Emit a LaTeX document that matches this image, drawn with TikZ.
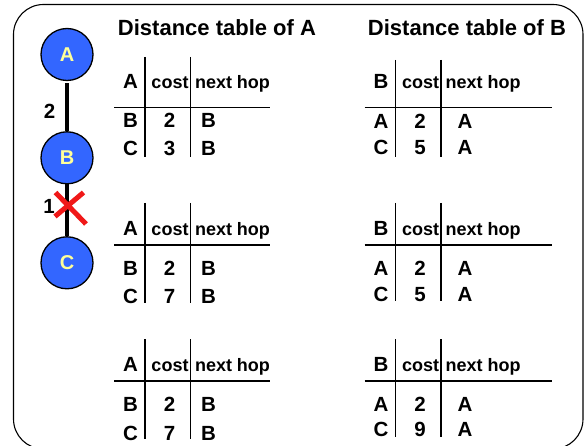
\documentclass[tikz,border=0pt]{standalone}
\usepackage{fontspec}
\setmainfont{Liberation Sans}
\tikzset{
  router/.style={circle,draw=black,line width=1.3pt,fill=routerblue,text=routeryellow,minimum size=52pt,inner sep=0pt,font=\fontsize{20}{20}\bfseries\selectfont},
  link/.style={line width=3.4pt,black},
  rule/.style={line width=1.5pt,black},
  hrule/.style={line width=1.7pt,black},
  big/.style={inner sep=0pt,anchor=base,font=\fontsize{20.5}{20}\bfseries\selectfont},
  small/.style={inner sep=0pt,anchor=base,font=\fontsize{18}{18}\bfseries\selectfont},
  titletext/.style={inner sep=0pt,anchor=base,font=\fontsize{22}{22}\bfseries\selectfont},
  cross/.style={line width=5pt,crossred}
}
\definecolor{routerblue}{HTML}{3366FF}
\definecolor{routeryellow}{HTML}{FFFF99}
\definecolor{crossred}{HTML}{F01818}
\newcommand{\disttable}[9]{%
  \coordinate (#1vat) at (145+#2,#3);
  \coordinate (#1vab) at (145+#2,#4);
  \coordinate (#1vbt) at (190.5+#2,#3);
  \coordinate (#1vbb) at (190.5+#2,#4);
  \coordinate (#1hl) at (114+#2,#5);
  \coordinate (#1hr) at (\tblright,#5);
  \draw[rule] (#1vat) -- (#1vab);
  \draw[rule] (#1vbt) -- (#1vbb);
  \draw[hrule] (#1hl) -- (#1hr);
  \node[big] (#1own) at (130.5+#2,#6) {\tblowner};
  \node[small] (#1cost) at (170+#2,#6) {cost};
  \node[small] (#1next) at (232.5+#2,#6) {next hop};
  \node[big] (#1ra) at (130.5+#2,#7) {\tblfirst};
  \node[big] (#1rac) at (169.5+#2,#7) {2};
  \node[big] (#1ran) at (\tblhopx,#7) {\tblhop};
  \node[big] (#1rb) at (130.5+#2,#8) {C};
  \node[big] (#1rbc) at (169.5+#2,#8) {#9};
  \node[big] (#1rbn) at (\tblhopx,#8) {\tblhop};
}
\begin{document}
\begin{tikzpicture}[x=1pt,y=-1pt]
\useasboundingbox (0,0) rectangle (588,446);
\begin{scope}
\clip (0,0) rectangle (588,446);
\draw[line width=1.1pt,rounded corners=30pt] (13.5,4.5) rectangle (583,449);
\node[router] (A) at (67,54.5) {A};
\node[router] (B) at (67,157.8) {B};
\node[router] (C) at (67,262.8) {C};
\draw[link,shorten <=2pt] (A) -- (B);
\draw[link] (B) -- (C);
\coordinate (xa) at (55.5,192.5);
\coordinate (xb) at (86,224);
\coordinate (xc) at (83.5,192.5);
\coordinate (xd) at (55,216.5);
\draw[cross] (xa) -- (xb);
\draw[cross] (xc) -- (xd);
\node[big] (lab) at (49.5,119) {2};
\node[big] (lbc) at (49,214) {1};
\node[titletext] (ta) at (217,36) {Distance table of A};
\node[titletext] (tb) at (467,36) {Distance table of B};
\def\tblowner{A}\def\tblfirst{B}\def\tblhop{B}\def\tblhopx{208.5}\def\tblright{270}
\disttable{a}{0}{57}{157}{107.5}{89}{127.5}{156}{3}
\disttable{b}{0}{203}{303}{244.7}{235}{275}{303}{7}
\disttable{c}{0}{339}{439}{380.7}{371}{411}{440}{7}
\def\tblowner{B}\def\tblfirst{A}\def\tblhop{A}\def\tblhopx{465}\def\tblright{552}
\disttable{d}{250.5}{60}{157}{107.5}{89}{129}{155}{5}
\disttable{e}{250.5}{203}{301}{244.7}{235}{275}{301}{5}
\disttable{f}{250.5}{339}{437}{380.7}{371}{411}{436}{9}
\end{scope}
\end{tikzpicture}
\end{document}
